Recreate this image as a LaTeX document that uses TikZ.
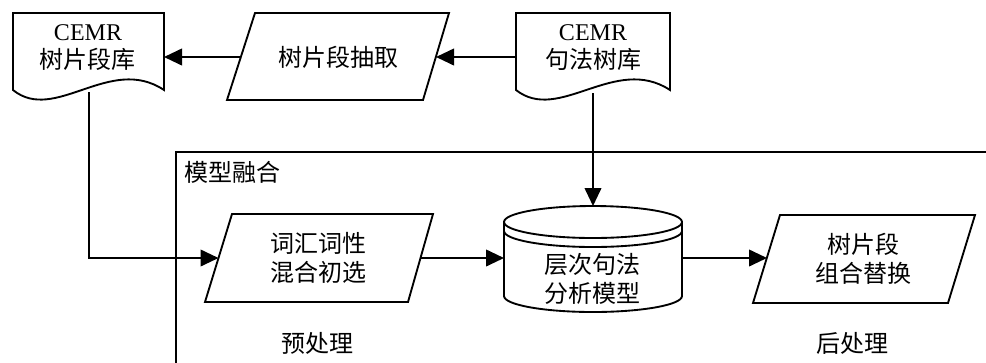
\documentclass[tikz,border=0pt]{standalone}
\usepackage{fontspec}
\setmainfont{Liberation Serif}
\newfontfamily\cjk{Noto Sans CJK SC}
\usetikzlibrary{arrows.meta}
\begin{document}
\begin{tikzpicture}[x=0.75pt,y=-0.75pt,
  shp/.style={draw=black, line width=1.4pt, line join=miter, fill=white},
  conn/.style={draw=black, line width=1.4pt},
  arr/.style={conn, -{Triangle[length=13.5pt,width=12.5pt]}},
  txt/.style={font=\fontsize{18}{22}\selectfont, align=center, inner sep=0pt}]
\useasboundingbox (0,0) rectangle (986,362);

% frame
\coordinate (fbl) at (176,363);
\coordinate (ftl) at (176,152);
\coordinate (ftr) at (987,152);
\draw[conn] (fbl) -- (ftl) -- (ftr);
\node[txt, anchor=west] (fuse) at (184,172) {\cjk 模型融合};

% document 1
\draw[shp] (13,90) -- (13,13) -- (164,13) -- (164,90)
  .. controls (110,54) and (55,124) .. (13,90) -- cycle;
\node[txt] (doc1) at (88,48) {CEMR\\[-1pt]{\cjk 树片段库}};
\coordinate (doc1r) at (164,57);
\coordinate (doc1b) at (89,92);

% document 2
\draw[shp] (516,90) -- (516,13) -- (670,13) -- (670,90)
  .. controls (615,54) and (559,124) .. (516,90) -- cycle;
\node[txt] (doc2) at (593,48) {CEMR\\[-1pt]{\cjk 句法树库}};
\coordinate (doc2l) at (516,57);
\coordinate (doc2b) at (593,93);

% parallelogram: extraction
\draw[shp] (255,13) -- (449,13) -- (423,100) -- (227,100) -- cycle;
\node[txt] (extr) at (338,57) {\cjk 树片段抽取};
\coordinate (extrr) at (436,57);
\coordinate (extrl) at (241,57);

% parallelogram: preselection
\draw[shp] (232,214) -- (433,214) -- (408,302) -- (205,302) -- cycle;
\node[txt] (pre) at (318,258) {\cjk 词汇词性\\\cjk 混合初选};
\coordinate (prel) at (218.5,258);
\coordinate (prer) at (420.5,258);
\coordinate (bend) at (89,258);
\node[txt] (prelab) at (317,343) {\cjk 预处理};

% cylinder
\draw[shp] (504,222) -- (504,296) arc[start angle=180, end angle=0, x radius=89, y radius=16]
  -- (682,222) arc[start angle=0, end angle=-180, x radius=89, y radius=16] -- cycle;
\draw[conn] (504,222) arc[start angle=180, end angle=0, x radius=89, y radius=16];
\draw[conn] (504,231) arc[start angle=180, end angle=0, x radius=89, y radius=16];
\node[txt] (model) at (592,279) {\cjk 层次句法\\\cjk 分析模型};
\coordinate (cylt) at (593,206);
\coordinate (cyll) at (504,258);
\coordinate (cylr) at (682,258);

% parallelogram: postprocess
\draw[shp] (780,215) -- (975,215) -- (948,303) -- (753,303) -- cycle;
\node[txt] (post) at (863,259) {\cjk 树片段\\\cjk 组合替换};
\coordinate (postl) at (767,258);
\node[txt] (postlab) at (852,343) {\cjk 后处理};

% connectors
\draw[arr] (doc2l) -- (extrr);
\draw[arr] (extrl) -- (doc1r);
\draw[arr] (doc1b) -- (bend) -- (prel);
\draw[arr] (doc2b) -- (cylt);
\draw[arr] (prer) -- (cyll);
\draw[arr] (cylr) -- (postl);
\end{tikzpicture}
\end{document}
